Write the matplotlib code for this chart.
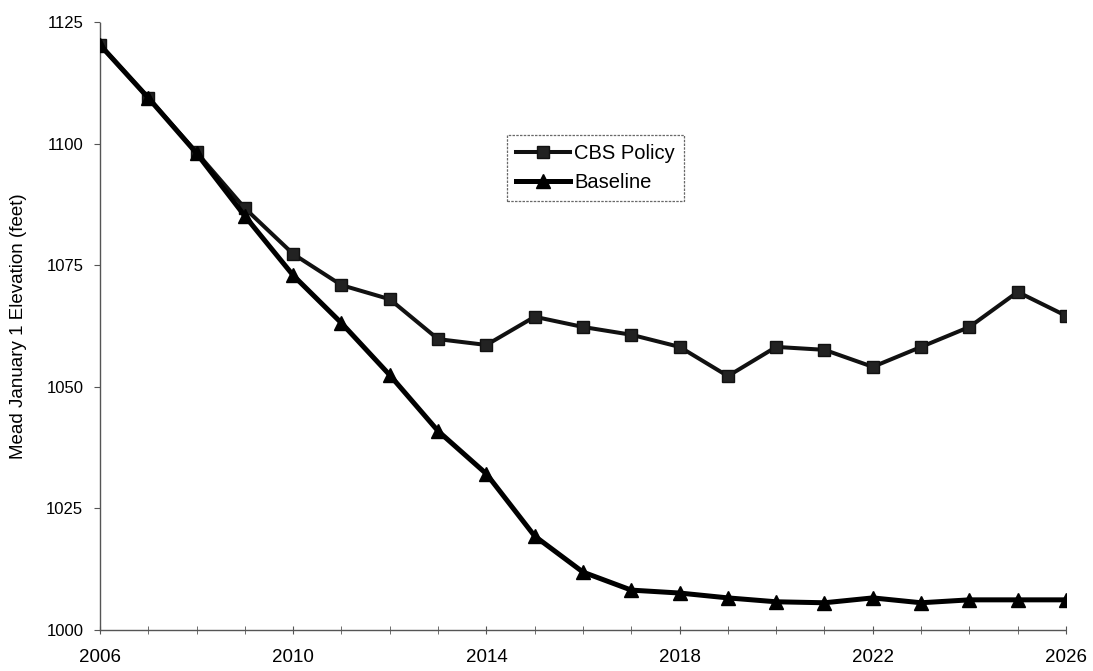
import matplotlib
matplotlib.use("Agg")
import matplotlib.pyplot as plt
from matplotlib.ticker import MultipleLocator

plt.rcParams['font.family'] = ['Liberation Sans', 'DejaVu Sans']

years = list(range(2006, 2027))
cbs_policy = [1120.3, 1109.4, 1098.2, 1086.7, 1077.3, 1070.9, 1068.0, 1059.8, 1058.6, 1064.4,
              1062.3, 1060.7, 1058.2, 1052.2, 1058.2, 1057.6, 1054.1, 1058.2, 1062.3, 1069.5, 1064.6]
baseline = [1120.3, 1109.4, 1098.0, 1085.1, 1072.9, 1063.1, 1052.4, 1040.9, 1032.1, 1019.3,
            1011.9, 1008.2, 1007.6, 1006.6, 1005.8, 1005.6, 1006.6, 1005.6, 1006.2, 1006.2, 1006.2]

y_ticks = [1000, 1025, 1050, 1075, 1100, 1125]
x_ticks = [2006, 2010, 2014, 2018, 2022, 2026]

fig = plt.figure(figsize=(10.93, 6.71), dpi=100)
ax = fig.add_axes([100 / 1093, 1 - 630 / 671, (1066 - 100) / 1093, (630 - 22) / 671])

ax.plot(years, cbs_policy, color='#111111', lw=2.9, marker='s', markersize=9,
        markerfacecolor='#222222', markeredgecolor='#111111', label='CBS Policy', zorder=3)
ax.plot(years, baseline, color='black', lw=3.6, marker='^', markersize=9.5,
        markerfacecolor='black', markeredgecolor='black', label='Baseline', zorder=4)

ax.set_xlim(2006, 2026)
ax.set_ylim(1000, 1125)
ax.set_xticks(x_ticks)
ax.xaxis.set_minor_locator(MultipleLocator(1))
ax.set_yticks(y_ticks)

for side in ('top', 'right'):
    ax.spines[side].set_visible(False)
for side in ('left', 'bottom'):
    ax.spines[side].set_color('#555555')
    ax.spines[side].set_linewidth(1.0)
    ax.spines[side].set_linestyle((0, (2, 1)))

ax.tick_params(axis='y', direction='out', length=4, color='#555555', labelsize=12, pad=8)
ax.tick_params(axis='x', which='both', direction='inout', length=6, color='#555555',
               labelsize=13.5, pad=11)

ax.set_ylabel('Mead January 1 Elevation (feet)', fontsize=13.5, labelpad=14)

leg = ax.legend(loc='upper left', bbox_to_anchor=((507 - 100) / 966, (630 - 135) / 608),
                fontsize=14.5, frameon=True, fancybox=False, handlelength=2.7,
                borderpad=0.45, labelspacing=0.5, handletextpad=0.2, borderaxespad=0)
leg.get_frame().set_edgecolor('#444444')
leg.get_frame().set_linewidth(0.9)
leg.get_frame().set_linestyle((0, (2, 1)))

fig.savefig('out.png', dpi=100, facecolor='white')
